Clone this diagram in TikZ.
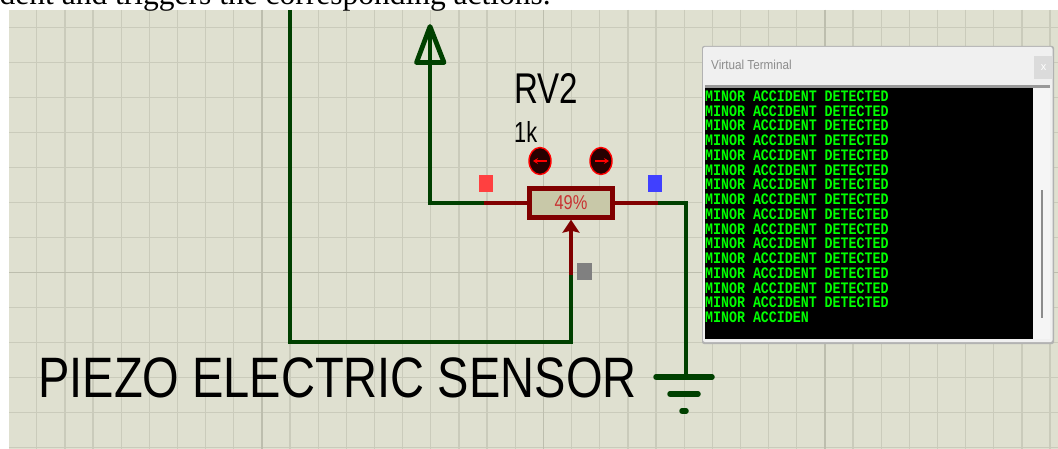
\documentclass[tikz,border=0pt]{standalone}
\usepackage{fontspec}
\setmainfont{Liberation Sans}
\newfontfamily\bookfont{Liberation Serif}
\newfontfamily\termfont{Liberation Mono}[BoldFont={Liberation Mono Bold}]
\usetikzlibrary{arrows.meta, shapes.geometric}
\definecolor{sheetbg}{RGB}{223,224,208}
\definecolor{gridminor}{RGB}{202,203,187}
\definecolor{gridmajor}{RGB}{189,190,174}
\definecolor{wiregreen}{RGB}{0,64,0}
\definecolor{pinmaroon}{RGB}{128,0,0}
\definecolor{bodyfill}{RGB}{200,200,168}
\definecolor{termgreen}{RGB}{0,255,0}
\newcommand{\squeezed}[2]{\scalebox{#1}[1]{#2}}
\tikzset{
  wire/.style={draw=wiregreen, line width=4.8pt, line join=miter},
  pinwire/.style={draw=pinmaroon, line width=4.8pt},
  groundbar/.style={draw=wiregreen, line width=5.5pt, line cap=round},
  pinbox/.style={draw=none, minimum width=14pt, minimum height=17pt, inner sep=0pt},
  jog/.style={draw=red, fill=black!70!pinmaroon, line width=1.4pt, ellipse, minimum width=22pt, minimum height=27pt, inner sep=0pt},
  termline/.style={anchor=west, inner sep=0pt, text=termgreen, font=\termfont\bfseries\fontsize{16}{16}\selectfont},
}
\begin{document}
\begin{tikzpicture}[x=1pt, y=-1pt]
  \clip (0,0) rectangle (1058,449);
  \fill[white] (0,0) rectangle (1058,449);

  % Sheet and its grid
  \def\gridx{28.15}
  \def\gridy{35}
  \fill[sheetbg] (9,10) rectangle (1058,449);
  \foreach \n in {0,...,36} {
    \draw[gridminor, line width=1.3pt] (36.7+\n*\gridx,10) -- ++(0,439);
  }
  \foreach \n in {0,...,12} {
    \draw[gridminor, line width=1.3pt] (9,27.5+\n*\gridy) -- ++(1049,0);
  }
  \foreach \n in {8,18,28} {
    \draw[gridmajor, line width=1.5pt] (36.7+\n*\gridx,10) -- ++(0,439);
  }
  \draw[gridmajor, line width=1.5pt] (9,27.5+7*\gridy) -- ++(1049,0);

  % Line of running text cut by the top edge
  \node[anchor=base east, inner sep=0pt, font=\bookfont\fontsize{31.5}{31.5}\selectfont] (bookline)
    at (551,5) {dent and triggers the corresponding actions.};

  % Potentiometer body
  \node[draw=pinmaroon, fill=bodyfill, line width=4.8pt, minimum width=83.5pt, minimum height=28.5pt,
    inner sep=0pt, text={rgb,255:red,200;green,50;blue,50}, font=\fontsize{20}{20}\selectfont] (rvbody)
    at (571,203) {\squeezed{.82}{49\%}};

  % Junction points of the wiring
  \coordinate (topleft) at (290,10);
  \coordinate (cornerbl) at (290,342);
  \coordinate (cornerbr) at (571,342);
  \coordinate (wipersplit) at (571,275);
  \coordinate (powertop) at (430,32);
  \coordinate (cornerpw) at (430,203);
  \coordinate (leftsplit) at (484,203);
  \coordinate (rightsplit) at (658,203);
  \coordinate (cornerrt) at (686,203);
  \coordinate (gndtop) at (686,377);

  % Wires
  \draw[wire] (topleft) -- (cornerbl) -- (cornerbr) -- (wipersplit);
  \draw[wire] (powertop) -- (cornerpw) -- (leftsplit);
  \draw[wire] (rightsplit) -- (cornerrt) -- (gndtop);
  \draw[pinwire] (leftsplit) -- (rvbody.west);
  \draw[pinwire] (rvbody.east) -- (rightsplit);
  \draw[pinwire, -{Stealth[length=13pt, width=17pt, inset=2pt]}] (wipersplit) -- (rvbody.south);

  % Power terminal
  \draw[wiregreen, line width=4.8pt, line join=round] (430,26.5) -- (444,62.5) -- (416.5,62.5) -- cycle;

  % Ground symbol
  \draw[groundbar] (656,377) -- (712,377);
  \draw[groundbar] (670,394) -- (698,394);
  \draw[groundbar] (682,411) -- (686,411);

  % Pin state markers
  \node[pinbox, fill={rgb,255:red,255;green,64;blue,64}] (pinleft) at (486,183.5) {};
  \node[pinbox, fill={rgb,255:red,64;green,64;blue,255}] (pinright) at (655,183.5) {};
  \node[pinbox, fill=black!50, minimum width=15pt] (pinwiper) at (584.5,271.5) {};

  % Jog buttons
  \node[jog] (jogleft) at (540,161) {};
  \node[jog] (jogright) at (601,161) {};
  \draw[red, line width=1.4pt, -{Stealth[length=5pt, width=6pt]}] (547,161) -- (533,161);
  \draw[red, line width=1.4pt, -{Stealth[length=5pt, width=6pt]}] (595,161) -- (609,161);

  % Labels
  \node[anchor=base west, inner sep=0pt, font=\fontsize{43}{43}\selectfont] (rvname)
    at (514,104) {\squeezed{.77}{RV2}};
  \node[anchor=base west, inner sep=0pt, font=\fontsize{29}{29}\selectfont] (rvvalue)
    at (514,143) {\squeezed{.75}{1k}};
  \node[anchor=base west, inner sep=0pt, font=\fontsize{57}{57}\selectfont] (sensorname)
    at (38,397) {\squeezed{.825}{PIEZO ELECTRIC SENSOR}};

  % Terminal window
  \fill[black!30, rounded corners=2pt] (702,46) rectangle (1054,344);
  \fill[black!6, rounded corners=2pt] (703,47) rectangle (1052.5,342);
  \fill[black!40] (705,85) rectangle (1050,88);
  \fill[black!4] (1033,88) rectangle (1050,339);
  \fill[black] (705,88) rectangle (1033,339);
  \fill[black!45] (1041,190) rectangle (1043,318);
  \fill[black!14] (1034,56) rectangle (1053,79);
  \node[inner sep=0pt, text=white, font=\fontsize{11}{11}\selectfont] (termclose) at (1043.5,68) {x};
  \node[anchor=west, inner sep=0pt, text=black!45, font=\fontsize{13}{13}\selectfont] (termtitle)
    at (711,65) {\squeezed{.9}{Virtual Terminal}};

  % Terminal output
  \def\termstep{14.75}
  \foreach \n in {0,...,14} {
    \node[termline] (term\n) at (705,96+\n*\termstep) {\squeezed{.83}{MINOR ACCIDENT DETECTED}};
  }
  \node[termline] (termlast) at (705,96+15*\termstep) {\squeezed{.83}{MINOR ACCIDEN}};
\end{tikzpicture}
\end{document}
